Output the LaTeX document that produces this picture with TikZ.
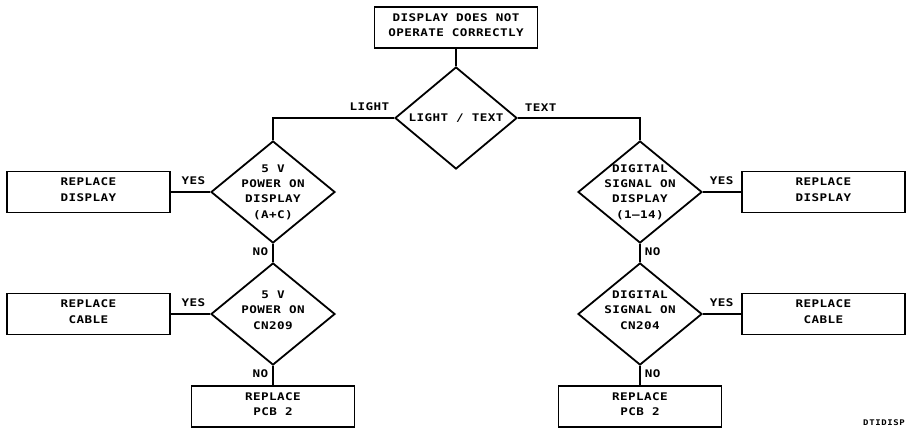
\documentclass[tikz,border=0pt]{standalone}
\usepackage{fontspec}
\newfontfamily\plotfont[FakeStretch=1.2,LetterSpace=4]{DejaVu Sans Mono}
\newfontfamily\tagfont[FakeStretch=1.15,LetterSpace=8]{DejaVu Sans Mono}
\usetikzlibrary{shapes.geometric}
\begin{document}
\begin{tikzpicture}[x=1pt,y=-1pt,
  every node/.style={inner sep=0pt},
  conn/.style={line width=1.8pt},
  txt/.style={font=\plotfont\bfseries\fontsize{10.5}{15.3}\selectfont, align=center},
  actbox/.style={draw, line width=1.8pt, rectangle, minimum width=163pt,
    minimum height=41pt, txt, text depth=4.6pt},
  query/.style={draw, line width=1.8pt, diamond, minimum width=124pt,
    minimum height=102pt},
  lbl/.style={font=\plotfont\bfseries\fontsize{10.5}{12}\selectfont},
  lblw/.style={lbl, anchor=south east, xshift=-4pt, yshift=6pt},
  lble/.style={lbl, anchor=south west, xshift=6pt, yshift=6pt},
  lbln/.style={lbl, anchor=north east, xshift=-4pt, yshift=-3pt},
  lblr/.style={lbl, anchor=north west, xshift=4pt, yshift=-3pt},
]
\useasboundingbox (0,0) rectangle (910,429);

% starting symptom and first decision
\node[actbox] (start) at (456,27.5) {DISPLAY DOES NOT\\OPERATE CORRECTLY};
\node[query, minimum width=122pt, label={[txt]center:LIGHT / TEXT}] (mode) at (456,118) {};

% left branch: backlight supply
\node[query, label={[txt]center:{5 V\\POWER ON\\DISPLAY\\(A+C)}}] (lpwr) at (273,192) {};
\node[query, label={[txt,yshift=4pt]center:{5 V\\POWER ON\\CN209}}] (lcn) at (273,314) {};
\node[actbox] (ldisp) at (88.5,192) {REPLACE\\DISPLAY};
\node[actbox] (lcab) at (88.5,314) {REPLACE\\CABLE};
\node[actbox] (lpcb) at (273,406.5) {REPLACE\\PCB 2};

% right branch: text signals
\node[query, label={[txt]center:{DIGITAL\\SIGNAL ON\\DISPLAY\\(1–14)}}] (rsig) at (640,192) {};
\node[query, label={[txt,yshift=4pt]center:{DIGITAL\\SIGNAL ON\\CN204}}] (rcn) at (640,314) {};
\node[actbox] (rdisp) at (823.5,192) {REPLACE\\DISPLAY};
\node[actbox] (rcab) at (823.5,314) {REPLACE\\CABLE};
\node[actbox] (rpcb) at (640,406.5) {REPLACE\\PCB 2};

% connectors
\draw[conn] (start.south) -- (mode.north);
\draw[conn] (mode.west) -| node[pos=0, lblw] {LIGHT} (lpwr.north);
\draw[conn] (mode.east) -| node[pos=0, lble] {TEXT} (rsig.north);

\draw[conn] (lpwr.west) -- node[pos=0, lblw] {YES} (ldisp.east);
\draw[conn] (lpwr.south) -- node[pos=0, lbln] {NO} (lcn.north);
\draw[conn] (lcn.west) -- node[pos=0, lblw] {YES} (lcab.east);
\draw[conn] (lcn.south) -- node[pos=0, lbln] {NO} (lpcb.north);

\draw[conn] (rsig.east) -- node[pos=0, lble] {YES} (rdisp.west);
\draw[conn] (rsig.south) -- node[pos=0, lblr] {NO} (rcn.north);
\draw[conn] (rcn.east) -- node[pos=0, lble] {YES} (rcab.west);
\draw[conn] (rcn.south) -- node[pos=0, lblr] {NO} (rpcb.north);

% drawing tag
\node[font=\tagfont\bfseries\fontsize{7.8}{9}\selectfont] (tag) at (884,423) {DTIDISP};
\end{tikzpicture}
\end{document}
